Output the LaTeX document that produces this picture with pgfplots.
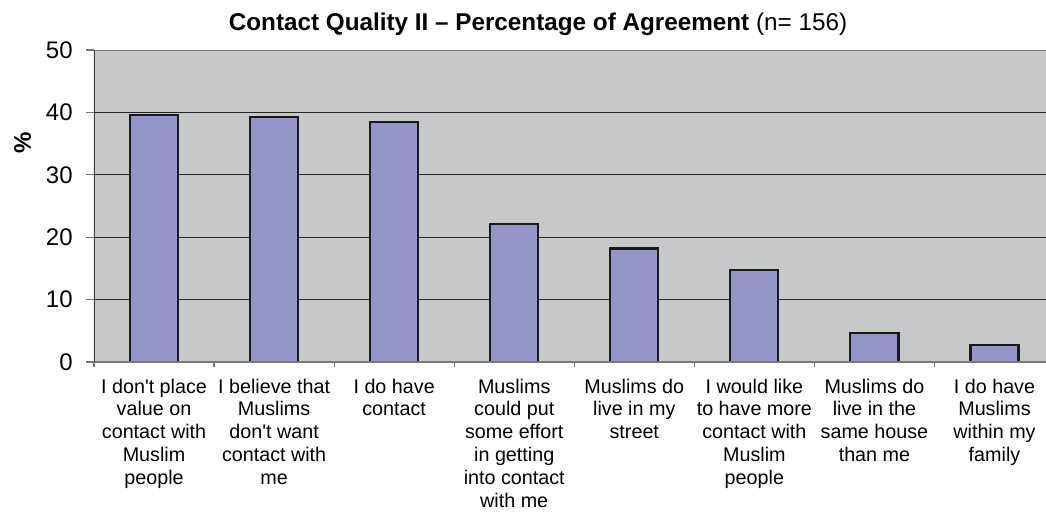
\documentclass[border=0pt]{standalone}
\usepackage{fontspec}
\setmainfont{Liberation Sans}
\usepackage{pgfplots}
\pgfplotsset{compat=1.18}
\definecolor{bg}{RGB}{199,200,202}
\definecolor{barc}{RGB}{149,150,200}
\definecolor{axc}{RGB}{120,120,120}
\begin{document}
\begin{tikzpicture}
\begin{axis}[
  at={(0,0)}, anchor=south west,
  scale only axis, width=714pt, height=234pt,
  xmin=-0.5, xmax=7.429, ymin=0, ymax=50,
  axis background/.style={fill=bg},
  axis line style={draw=none},
  ytick={0,10,...,50},
  xtick={0,...,7},
  minor xtick={-0.5,0.5,...,6.5},
  xtick pos=bottom, ytick pos=left,
  tick align=outside,
  major tick length=6pt, minor tick length=3.75pt,
  every major x tick/.style={draw=none},
  tick style={axc, line width=0.9pt},
  ymajorgrids, grid style={black!85, line width=0.75pt},
  xticklabels={
    {I don\textquotesingle t place\\value on\\contact with\\Muslim\\people},
    {I believe that\\Muslims\\don\textquotesingle t want\\contact with\\me},
    {I do have\\contact},
    {Muslims\\could put\\some effort\\in getting\\into contact\\with me},
    {Muslims do\\live in my\\street},
    {I would like\\to have more\\contact with\\Muslim\\people},
    {Muslims do\\live in the\\same house\\than me},
    {I do have\\Muslims\\within my\\family}},
  xticklabel style={align=center, font=\fontsize{14.8pt}{17.1pt}\selectfont, inner sep=0pt, anchor=north, yshift=-6.35pt},
  yticklabel style={font=\fontsize{18pt}{20pt}\selectfont, /pgf/number format/assume math mode=true, inner sep=0pt, anchor=east, xshift=-9.8pt},
]
\addplot[ybar, bar width=0.4, fill=barc, draw=black!90, line width=1.6pt] coordinates {
  (0,39.6) (1,39.2) (2,38.5) (3,22.1) (4,18.2) (5,14.8) (6,4.7) (7,2.7)};
\draw[axc, line width=1.5pt] (rel axis cs:0,1) -- (rel axis cs:1,1);
\draw[axc, line width=1pt] (rel axis cs:0,0) -- (rel axis cs:1,0);
\draw[black!75, line width=1pt] (rel axis cs:0,0) -- (rel axis cs:0,1);
\end{axis}
\node[anchor=base] at (333pt,248.25pt) {\fontsize{18.2pt}{22pt}\selectfont\bfseries Contact Quality II – Percentage of Agreement\mdseries\ (n= 156)};
\node[rotate=90, font=\bfseries\fontsize{18pt}{20pt}\selectfont] at (-53.6pt,164.25pt) {\%};
\pgfresetboundingbox
\useasboundingbox (-70.5pt,-111.75pt) rectangle (714pt,271.5pt);
\end{tikzpicture}
\end{document}
